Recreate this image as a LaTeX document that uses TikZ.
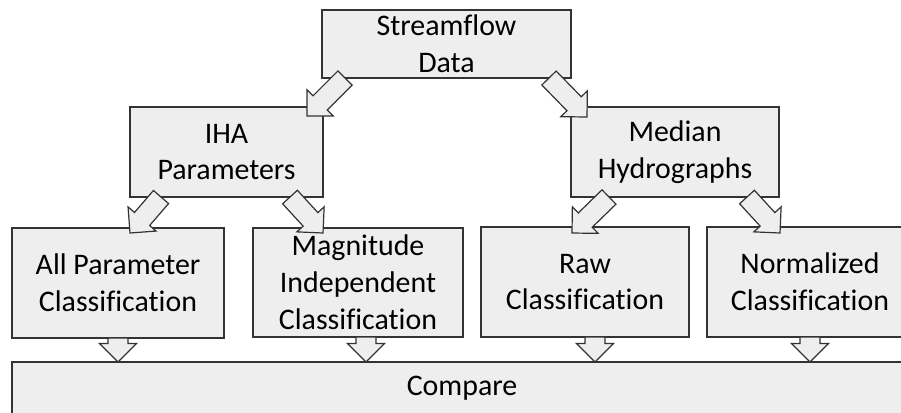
\documentclass[tikz,border=0pt]{standalone}
\usepackage{fontspec}
\setmainfont{Carlito}[Ligatures=NoCommon]
\usetikzlibrary{calc}
\definecolor{boxfill}{HTML}{EEEEEE}
\definecolor{boxline}{HTML}{333333}
\tikzset{
  box/.style={draw=boxline, fill=boxfill, line width=1.2bp, inner sep=0pt,
    align=center, font=\fontsize{30}{37}\selectfont},
  barr/.style={draw=boxline, fill=boxfill, line width=1.2bp, line join=miter},
}
\newcommand{\blockarrow}[2]{%
  \coordinate (hb) at ($(#2)!18.5bp!(#1)$);
  \draw[barr] ($(#1)!10bp!90:(#2)$) -- ($(hb)!10bp!90:(#2)$)
    -- ($(hb)!18.5bp!90:(#2)$) -- (#2) -- ($(hb)!18.5bp!-90:(#2)$)
    -- ($(hb)!10bp!-90:(#2)$) -- ($(#1)!10bp!-90:(#2)$) -- cycle;}
\begin{document}
\begin{tikzpicture}[x=1bp,y=-1bp]
\useasboundingbox (0,0) rectangle (901,412);
\node[box, minimum width=249bp, minimum height=68bp] (sf) at (446.5,44) {Streamflow\\Data};
\node[box, minimum width=193bp, minimum height=90bp] (iha) at (226.5,152) {IHA\\Parameters};
\node[box, minimum width=208bp, minimum height=90bp] (med) at (675,152) {Median\\Hydrographs};
\node[box, minimum width=212bp, minimum height=110bp] (allp) at (118,283) {All Parameter\\Classification};
\node[box, minimum width=210bp, minimum height=109bp] (mag) at (358,282.5) {Magnitude\\Independent\\Classification};
\node[box, minimum width=208bp, minimum height=110bp] (raw) at (585,282) {Raw\\Classification};
\node[box, minimum width=206bp, minimum height=110bp] (norm) at (810,282) {Normalized\\Classification};
\node[box, minimum width=900bp, minimum height=52bp] (cmp) at (462,388) {Compare};
% arrow end points
\coordinate (s1) at (345,78);  \coordinate (t1) at (307,116);
\coordinate (s2) at (549,78);  \coordinate (t2) at (587,117);
\coordinate (s3) at (161,197); \coordinate (t3) at (130,233);
\coordinate (s4) at (290,197); \coordinate (t4) at (323,233);
\coordinate (s5) at (609,197); \coordinate (t5) at (572,233);
\coordinate (s6) at (747,197); \coordinate (t6) at (780,233);
\coordinate (s7) at (118,338); \coordinate (t7) at (118,362);
\coordinate (s8) at (366,337); \coordinate (t8) at (366,362);
\coordinate (s9) at (595,337); \coordinate (t9) at (595,362);
\coordinate (s10) at (810,337); \coordinate (t10) at (810,362);
\blockarrow{s1}{t1}
\blockarrow{s2}{t2}
\blockarrow{s3}{t3}
\blockarrow{s4}{t4}
\blockarrow{s5}{t5}
\blockarrow{s6}{t6}
\blockarrow{s7}{t7}
\blockarrow{s8}{t8}
\blockarrow{s9}{t9}
\blockarrow{s10}{t10}
\end{tikzpicture}
\end{document}
